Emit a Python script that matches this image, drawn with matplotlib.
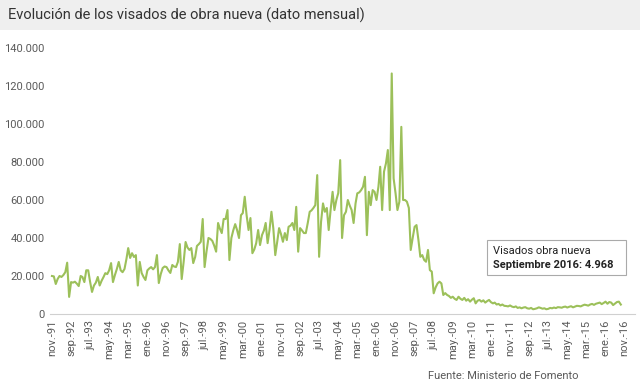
import numpy as np
import pandas as pd
import matplotlib
matplotlib.use('Agg')
import matplotlib.pyplot as plt
from matplotlib.patches import Rectangle

plt.rcParams['font.family'] = ['Roboto', 'DejaVu Sans']

# Visados de obra nueva, dato mensual (nov-91 .. sep-16)
v1991 = [20000, 19800]
v1992 = [15800, 18500, 20000, 19500, 20500, 22000, 27000, 9000, 16800, 16500, 17000, 16000]
v1993 = [14700, 20000, 19500, 16800, 23000, 23000, 17000, 11600, 15000, 16500, 19500, 15000]
v1994 = [17500, 19500, 21500, 21000, 23000, 26800, 16800, 20500, 23700, 27400, 23000, 22000]
v1995 = [23700, 29000, 34700, 29500, 32000, 30000, 31000, 15000, 27400, 21600, 19500, 17900]
v1996 = [23000, 24000, 24700, 23500, 24700, 31000, 16300, 21000, 24200, 25000, 24700, 23000]
v1997 = [21600, 25800, 25000, 24700, 27400, 36800, 18400, 27400, 37900, 35000, 33700, 34700]
v1998 = [26800, 30000, 35800, 36800, 38000, 50000, 24700, 33000, 40000, 39500, 38500, 36000]
v1999 = [32800, 47900, 45000, 42600, 50000, 50000, 54700, 28400, 40000, 44000, 47300, 44200]
v2000 = [40000, 52000, 53100, 61700, 52000, 44200, 50500, 32000, 34000, 37300, 44200, 36300]
v2001 = [41500, 44000, 47900, 37300, 44200, 53800, 45000, 31000, 38000, 45200, 42000, 38000]
v2002 = [42600, 38900, 45900, 46500, 47900, 44200, 56400, 32800, 45200, 44000, 42600, 42600]
v2003 = [47900, 53800, 54500, 55800, 57300, 73100, 30100, 48500, 58200, 53800, 55800, 44200]
v2004 = [55000, 64300, 54700, 60000, 63600, 81000, 40000, 52000, 53800, 60000, 57000, 54700]
v2005 = [47900, 58200, 63500, 64000, 65200, 67000, 72200, 41500, 64300, 57300, 65200, 64300]
v2006 = [60000, 67000, 77500, 54700, 74900, 79300, 86300, 54700, 126600, 71400, 63500, 54700]
v2007 = [59100, 98500, 60000, 60000, 59100, 55800, 33700, 40000, 45900, 46800, 38900, 30100]
v2008 = [31000, 28400, 27500, 33700, 23100, 22300, 10900, 14000, 16100, 17000, 16100, 10000]
v2009 = [11000, 10000, 9500, 8500, 9100, 8000, 7400, 9100, 8000, 7400, 8500, 7000]
v2010 = [7800, 6500, 7500, 8300, 5600, 7000, 7400, 6500, 7200, 6000, 6800, 7400]
v2011 = [6200, 5600, 6000, 5000, 5300, 4500, 5000, 4300, 4200, 4000, 4500, 3900]
v2012 = [3600, 4000, 3200, 3500, 3000, 3400, 3600, 3000, 2800, 3200, 2500, 2700]
v2013 = [3000, 3500, 3200, 2800, 3000, 2500, 2700, 3200, 3000, 3400, 3100, 3600]
v2014 = [3500, 3300, 3700, 3900, 3400, 3800, 4100, 3500, 3900, 4300, 4200, 4000]
v2015 = [4500, 4900, 4700, 4400, 5000, 5300, 4800, 5400, 5700, 6000, 5200, 5800]
v2016 = [6500, 5400, 6300, 6000, 4700, 5500, 6300, 6500, 4968]

valores = (v1991 + v1992 + v1993 + v1994 + v1995 + v1996 + v1997 + v1998 + v1999 + v2000
           + v2001 + v2002 + v2003 + v2004 + v2005 + v2006 + v2007 + v2008 + v2009 + v2010
           + v2011 + v2012 + v2013 + v2014 + v2015 + v2016)
fechas = pd.date_range('1991-11-01', periods=len(valores), freq='MS')

meses = ['ene', 'feb', 'mar', 'abr', 'may', 'jun', 'jul', 'ago', 'sep', 'oct', 'nov', 'dic']
ticks = pd.date_range('1991-11-01', '2016-11-01', freq='10MS')
tick_labels = [f"{meses[t.month - 1]}.-{t.year % 100:02d}" for t in ticks]
y_ticks = [0, 20000, 40000, 60000, 80000, 100000, 120000, 140000]

gris = '#5a5a5a'
verde = '#9cc05a'

fig = plt.figure(figsize=(6.4, 3.88), dpi=100)
fig.patches.append(Rectangle((0, 1 - 30 / 388), 1, 30 / 388, transform=fig.transFigure,
                             facecolor='#efefef', edgecolor='none', zorder=0))
fig.text(8 / 640, 1 - 15 / 388, 'Evolución de los visados de obra nueva (dato mensual)',
         fontsize=10.5, color='#333333', va='center', ha='left')

ax = fig.add_axes([50 / 640, 1 - 314 / 388, 585 / 640, 266 / 388])
ax.plot(fechas, valores, color=verde, lw=1.5)

ax.set_ylim(0, 140000)
ax.set_xlim(pd.Timestamp('1991-10-01'), pd.Timestamp('2017-04-15'))
ax.set_yticks(y_ticks)
ax.set_yticklabels([f"{v:,}".replace(',', '.') for v in y_ticks], fontsize=8, color=gris)
ax.set_xticks(ticks)
ax.set_xticklabels(tick_labels, rotation=90, fontsize=8, color=gris)
ax.tick_params(length=0, pad=4)
for s in ['top', 'right', 'left']:
    ax.spines[s].set_visible(False)
ax.spines['bottom'].set_color('#d0d0d0')

ax.add_patch(Rectangle((0.747, 0.147), 0.238, 0.131, transform=ax.transAxes,
                       facecolor='white', edgecolor='#aaaaaa', lw=0.8, zorder=3))
ax.text(0.758, 0.238, 'Visados obra nueva', transform=ax.transAxes, fontsize=8,
        color='#222222', va='center', zorder=4)
ax.text(0.758, 0.185, 'Septiembre 2016: 4.968', transform=ax.transAxes, fontsize=8,
        color='#222222', va='center', fontweight='bold', zorder=4)

fig.text(578 / 640, 1 - 376 / 388, 'Fuente: Ministerio de Fomento', fontsize=8,
         color=gris, ha='right', va='center')

fig.savefig('out.png', dpi=100)
